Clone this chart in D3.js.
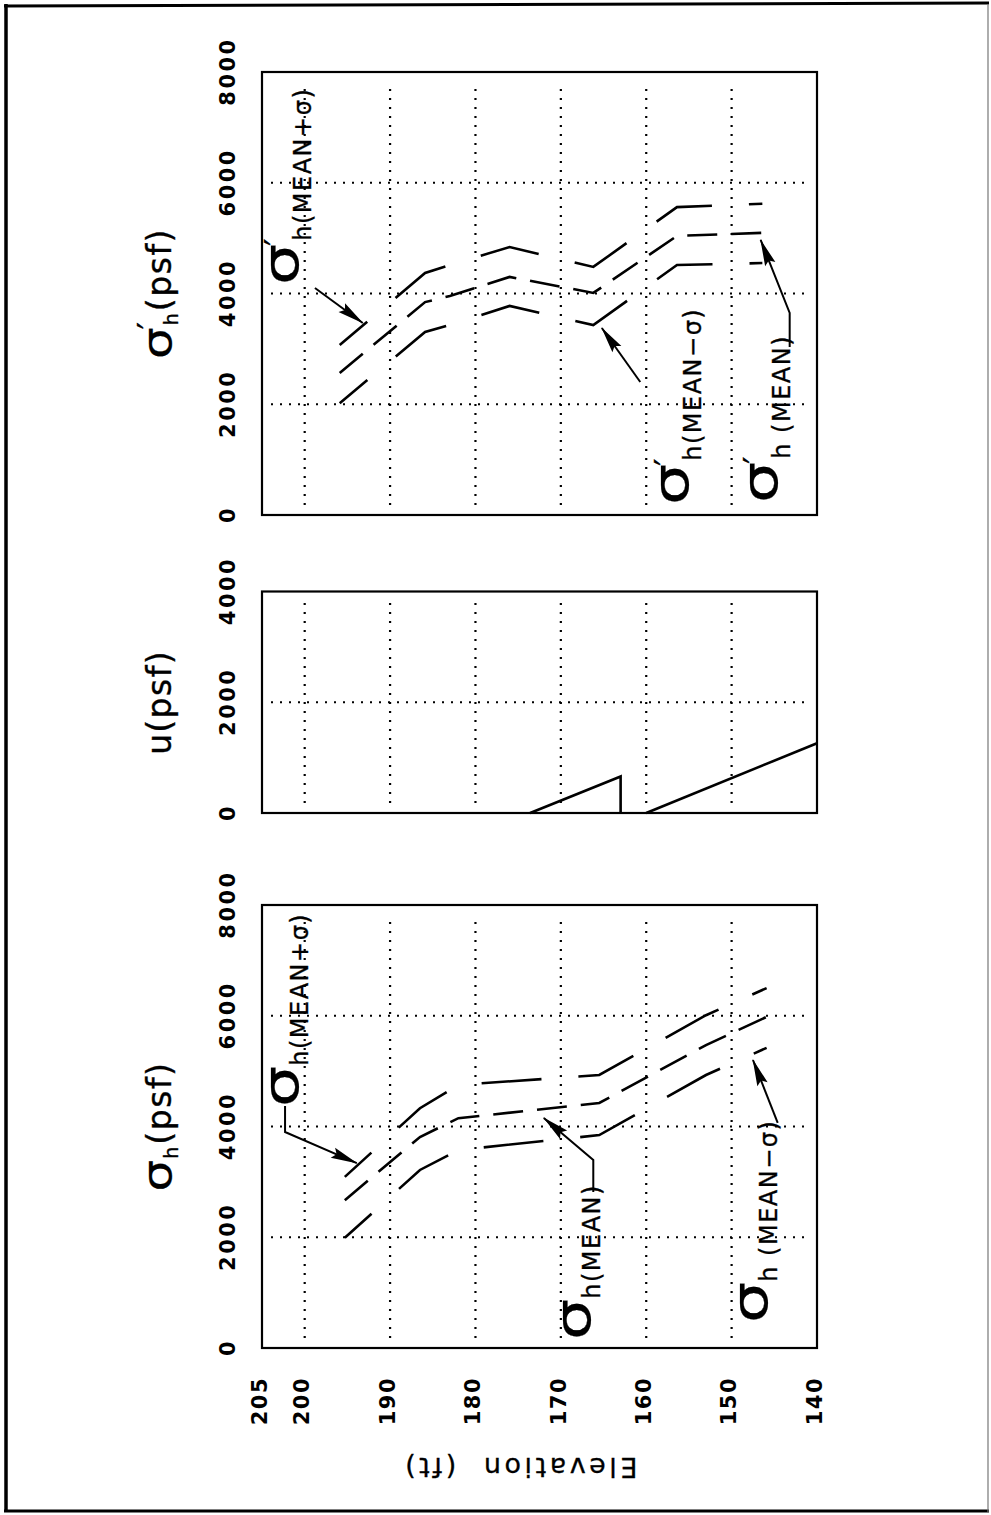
<!DOCTYPE html>
<html><head><meta charset="utf-8">
<script src="https://cdn.jsdelivr.net/npm/d3@7"></script>
<style>body{margin:0;background:#fff}svg{display:block}</style>
</head><body>
<svg id="c" width="991" height="1515"></svg>
<script>
// ---------- data ----------
const elevTicks = [205, 200, 190, 180, 170, 160, 150, 140];
const elevGrid = [200, 190, 180, 170, 160, 150];
const stressTicks = [0, 2000, 4000, 6000, 8000];
const stressGrid = [2000, 4000, 6000];
const uTicks = [0, 2000, 4000];
const uGrid = [2000];

// total horizontal stress sigma_h (psf) vs elevation (ft)
const sigmaElev  = [195.3, 186.5, 182.0, 165.5, 153.0, 145.9];
const sigmaUpper = [3090, 4330, 4750, 4930, 6010, 6500];
const sigmaMean  = [2670, 3810, 4150, 4425, 5470, 5980];
const sigmaLower = [1990, 3215, 3575, 3845, 4930, 5420];

// pore pressure u (psf)
const uElevA = [173.6, 163.0, 163.0];
const uValA  = [0, 660, 0];
const uElevB = [160.0, 140.0];
const uValB  = [0, 1260];

// effective horizontal stress sigma'_h (psf)
const effElev  = [195.9, 185.9, 183.0, 176.0, 166.2, 156.4, 146.4];
const effUpper = [3070, 4370, 4515, 4840, 4480, 5560, 5620];
const effMean  = [2565, 3845, 3955, 4300, 4010, 5040, 5095];
const effLower = [2020, 3305, 3430, 3775, 3430, 4515, 4550];

// ---------- setup ----------
const FONT = "'DejaVu Sans', sans-serif";
const svg = d3.select('#c');
const W0 = 1515; // width of the unrotated figure

// outer frame (page coordinates)
const frame = svg.append('g').attr('stroke', '#000').attr('fill', 'none');
frame.append('line').attr('x1', 4).attr('y1', 6).attr('x2', 989).attr('y2', 3).attr('stroke-width', 3);
frame.append('line').attr('x1', 6).attr('y1', 4).attr('x2', 6).attr('y2', 1512).attr('stroke-width', 3.5);
frame.append('line').attr('x1', 4).attr('y1', 1511).attr('x2', 989).attr('y2', 1511).attr('stroke-width', 3);
frame.append('line').attr('x1', 988).attr('y1', 4).attr('x2', 988).attr('y2', 1512).attr('stroke-width', 1.2).attr('stroke', '#777');

// the chart is drawn upright and then rotated 90° counter-clockwise
const g = svg.append('g').attr('transform', `translate(0,${W0}) rotate(-90)`);

const y  = d3.scaleLinear().domain([205, 140]).range([262, 817]);
const xS = d3.scaleLinear().domain([0, 8000]).range([167, 610]);
const xU = d3.scaleLinear().domain([0, 4000]).range([702, 923.5]);
const xE = d3.scaleLinear().domain([0, 8000]).range([1000, 1443]);

const defs = svg.append('defs');
defs.append('marker').attr('id', 'ah').attr('viewBox', '-27 -7 29 14')
  .attr('refX', 0).attr('refY', 0).attr('markerWidth', 29).attr('markerHeight', 14)
  .attr('markerUnits', 'userSpaceOnUse').attr('orient', 'auto')
  .append('path').attr('d', 'M1,0L-26,-5.5L-22,0L-26,5.5Z').attr('fill', '#000');

const panels = [
  {x: xS, ticks: stressTicks, grid: stressGrid},
  {x: xU, ticks: uTicks, grid: uGrid},
  {x: xE, ticks: stressTicks, grid: stressGrid}
];

panels.forEach(p => {
  const [x0, x1] = p.x.range();
  const [y0, y1] = y.range();
  const pg = g.append('g');
  const dot = {stroke: '#000', 'stroke-width': 2.2, 'stroke-dasharray': '2,7'};
  p.grid.forEach(v => {
    const l = pg.append('line').attr('x1', p.x(v)).attr('x2', p.x(v)).attr('y1', y0 + 9).attr('y2', y1 - 6);
    Object.entries(dot).forEach(([k, val]) => l.attr(k, val));
  });
  elevGrid.forEach(e => {
    const l = pg.append('line').attr('y1', y(e)).attr('y2', y(e)).attr('x1', x0 + 10).attr('x2', x1 - 10);
    Object.entries(dot).forEach(([k, val]) => l.attr(k, val));
  });
  pg.append('rect').attr('x', x0).attr('y', y0).attr('width', x1 - x0).attr('height', y1 - y0)
    .attr('fill', 'none').attr('stroke', '#000').attr('stroke-width', 2.2);
  const ax = pg.append('g').attr('transform', `translate(0,${y0})`)
    .call(d3.axisTop(p.x).tickValues(p.ticks).tickSize(0).tickPadding(27).tickFormat(d3.format('d')));
  ax.select('.domain').remove();
  ax.selectAll('text').attr('font-family', FONT).attr('font-size', 21).attr('font-weight', 'bold')
    .attr('letter-spacing', 2.5).attr('fill', '#000');
});

// elevation axis
const ea = g.append('g').attr('transform', `translate(${xS.range()[0]},0)`)
  .call(d3.axisLeft(y).tickValues(elevTicks).tickSize(0).tickPadding(29));
ea.select('.domain').remove();
ea.selectAll('text').attr('font-family', FONT).attr('font-size', 21).attr('font-weight', 'bold')
  .attr('letter-spacing', 1.5).attr('dy', '0.2em').attr('fill', '#000');

g.append('text').attr('transform', `translate(57,${(y.range()[0] + y.range()[1]) / 2 - 20}) rotate(-90)`)
  .attr('text-anchor', 'middle').attr('font-family', FONT).attr('font-size', 27)
  .attr('letter-spacing', 3.5).attr('fill', '#000').attr('stroke', '#000').attr('stroke-width', 0.3)
  .attr('xml:space', 'preserve').text('Elevation  (ft)');

// ---------- curves ----------
function curve(xsc, elev, vals, dash, offset) {
  const line = d3.line().x(d => xsc(d[1])).y(d => y(d[0]));
  g.append('path').datum(d3.zip(elev, vals)).attr('d', line)
    .attr('fill', 'none').attr('stroke', '#000').attr('stroke-width', 2.6)
    .attr('stroke-dasharray', dash).attr('stroke-dashoffset', offset || 0);
}
curve(xS, sigmaElev, sigmaUpper, '60,37', 24);
curve(xS, sigmaElev, sigmaMean, '30,14', 0);
curve(xS, sigmaElev, sigmaLower, '60,37', 24);
curve(xE, effElev, effUpper, '60,37', 24);
curve(xE, effElev, effMean, '30,14', 0);
curve(xE, effElev, effLower, '60,37', 24);
curve(xU, uElevA, uValA, null, 0);
curve(xU, uElevB, uValB, null, 0);

// ---------- labels ----------
function compose(parent, x, yy, parts, anchor) {
  const grp = parent.append('g');
  let cx = 0;
  parts.forEach(p => {
    const t = grp.append('text').attr('font-family', FONT).attr('font-size', p.size)
      .attr('letter-spacing', p.ls || 0).attr('fill', '#000')
      .attr('stroke', '#000').attr('stroke-width', p.sw || 0.35).text(p.t);
    const sx = p.sx || 1;
    const w = t.node().getComputedTextLength();
    cx += (p.dx || 0);
    t.attr('transform', `translate(${cx},${p.dy || 0}) scale(${sx},1)`);
    cx += p.adv === undefined ? w * sx : p.adv;
  });
  const shift = anchor === 'middle' ? -cx / 2 : anchor === 'end' ? -cx : 0;
  grp.attr('transform', `translate(${x + shift},${yy})`);
  return grp;
}

const sig = (size, sx) => ({t: 'σ', size: size, sx: sx, sw: 0.2});
const prime = (size) => ({t: '′', size: size, dy: -size * 0.35, dx: -2, adv: 0});

// titles
compose(g, d3.mean(xS.range()), 171, [sig(40, 1.25), {t: 'h', size: 19, dy: 7, dx: 1}, {t: '(psf)', size: 33, ls: 1.5, dx: 2}], 'middle');
compose(g, d3.mean(xU.range()), 171, [{t: 'u', size: 33}, {t: '(psf)', size: 33, ls: 1.5, dx: 1}], 'middle');
compose(g, d3.mean(xE.range()), 171, [sig(40, 1.25), prime(32), {t: 'h', size: 19, dy: 7, dx: 4}, {t: '(psf)', size: 33, ls: 1.5, dx: 2}], 'middle');

// annotations: label anchor and arrow path in data units (stress, elevation)
const annotations = [
  {x: xS, at: [4352, 200.8], sub: 'h(MEAN+σ)', prime: false, path: [[4370, 202.3], [3900, 202.3], [3340, 193.9]]},
  {x: xS, at: [144, 166.6], sub: 'h(MEAN)', prime: false, path: [[2817, 166.2], [3395, 166.2], [4154, 172.0]]},
  {x: xS, at: [452, 145.85], sub: 'h (MEAN−σ)', prime: false, path: [[4064, 144.6], [5201, 147.5]]},
  {x: xE, at: [4154, 200.8], sub: 'h(MEAN+σ)', prime: true, path: [[4100, 198.8], [3467, 193.2]]},
  {x: xE, at: [181, 155.1], sub: 'h(MEAN−σ)', prime: true, path: [[2402, 160.7], [3377, 165.2]]},
  {x: xE, at: [217, 144.7], sub: 'h (MEAN)', prime: true, path: [[3034, 143.2], [3648, 143.2], [4967, 146.6]]}
];

annotations.forEach(a => {
  const parts = [sig(50, 1.3)];
  if (a.prime) parts.push(prime(32));
  parts.push({t: a.sub, size: 24, dy: a.prime ? 13 : 10, ls: 1.5, dx: a.prime ? 5 : 0});
  compose(g, a.x(a.at[0]), y(a.at[1]), parts, 'start').attr('xml:space', 'preserve');
  const line = d3.line().x(d => a.x(d[0])).y(d => y(d[1]));
  g.append('path').datum(a.path).attr('d', line).attr('fill', 'none')
    .attr('stroke', '#000').attr('stroke-width', 2).attr('marker-end', 'url(#ah)');
});
</script>
</body></html>
